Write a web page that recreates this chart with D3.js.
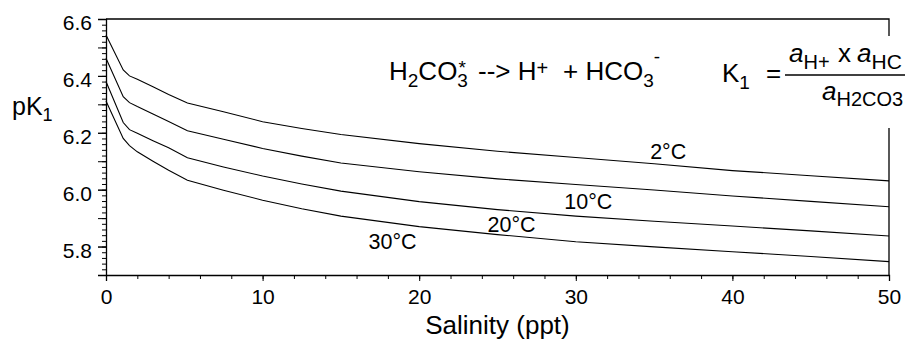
<!DOCTYPE html>
<html>
<head>
<meta charset="utf-8">
<script src="https://cdn.jsdelivr.net/npm/d3@7"></script>
<style>
  body { margin: 0; background: #fff; }
  svg { font-family: "Liberation Sans", Arial, Helvetica, sans-serif; }
</style>
</head>
<body>
<svg id="chart" width="905" height="343"></svg>
<script>
// salinity grid (ppt) and pK1
const salinity = [0, 1.1, 1.5, 2, 3, 4, 5.2, 7.5, 10, 12.5, 15, 20, 25, 30, 35, 40, 45, 50];
const pk2C  = [6.544, 6.421, 6.400, 6.388, 6.362, 6.335, 6.305, 6.274, 6.239, 6.215, 6.194, 6.162, 6.135, 6.113, 6.091, 6.067, 6.049, 6.031];
const pk10C = [6.462, 6.327, 6.306, 6.292, 6.266, 6.240, 6.207, 6.177, 6.145, 6.118, 6.094, 6.063, 6.038, 6.018, 5.999, 5.978, 5.959, 5.940];
const pk20C = [6.380, 6.236, 6.211, 6.198, 6.172, 6.147, 6.112, 6.080, 6.048, 6.020, 5.995, 5.958, 5.930, 5.907, 5.889, 5.872, 5.855, 5.837];
const pk30C = [6.312, 6.180, 6.155, 6.133, 6.100, 6.068, 6.033, 5.998, 5.963, 5.933, 5.907, 5.870, 5.842, 5.817, 5.799, 5.782, 5.765, 5.747];

const seriesLabels = ["2°C", "10°C", "20°C", "30°C"];
// label anchor [salinity, pK1] (text baseline)
const labelAt = [[35.9, 6.108], [30.8, 5.932], [25.9, 5.851], [18.3, 5.791]];

const xTicks = [0, 10, 20, 30, 40, 50];
const yTicks = [5.8, 6.0, 6.2, 6.4, 6.6];

const svg = d3.select("#chart");

const plotLeft = 106;
const plotRight = 889;
const plotTop = 19;
const plotBottom = 275;

const x = d3.scaleLinear().domain([0, 50]).range([plotLeft, plotRight]);
const y = d3.scaleLinear().domain([5.7, 6.6]).range([plotBottom, plotTop]);

const curves = [pk2C, pk10C, pk20C, pk30C];

const line = d3
  .line()
  .x((d, i) => x(salinity[i]))
  .y((d) => y(d));

svg
  .append("g")
  .selectAll("path")
  .data(curves)
  .join("path")
  .attr("d", line)
  .attr("fill", "none")
  .attr("stroke", "#000")
  .attr("stroke-width", 1.1);

// frame top and right
svg
  .append("path")
  .attr("d", `M${plotLeft},${plotTop}H${plotRight}V${plotBottom}`)
  .attr("fill", "none")
  .attr("stroke", "#000")
  .attr("stroke-width", 1.3);

// x axis, minor every 2
const xMinor = d3.range(0, 51, 2);
const xAxis = svg.append("g").attr("transform", `translate(0,${plotBottom})`);
xAxis
  .append("g")
  .call(d3.axisBottom(x).tickValues(xMinor).tickSize(4).tickFormat(""))
  .call((g) => g.select(".domain").remove());
xAxis
  .append("g")
  .call(d3.axisBottom(x).tickValues(xTicks).tickSize(6).tickPadding(8).tickFormat(d3.format("d")))
  .call((g) => g.select(".domain").attr("stroke-width", 1.3))
  .call((g) => g.selectAll("text").attr("font-size", 21).attr("font-family", null).attr("fill", "#000"));

// y axis, minor every 0.02, medium every 0.1
const yMinor = d3.range(0, 46).map((i) => 5.7 + i * 0.02);
const yMid = d3.range(0, 10).map((i) => 5.7 + i * 0.1);
const yAxis = svg.append("g").attr("transform", `translate(${plotLeft},0)`);
yAxis
  .append("g")
  .call(d3.axisLeft(y).tickValues(yMinor).tickSize(4).tickFormat(""))
  .call((g) => g.select(".domain").remove());
yAxis
  .append("g")
  .call(d3.axisLeft(y).tickValues(yMid).tickSize(8).tickFormat(""))
  .call((g) => g.select(".domain").remove());
yAxis
  .append("g")
  .call(d3.axisLeft(y).tickValues(yTicks).tickSize(8).tickPadding(6).tickFormat(d3.format(".1f")))
  .call((g) => g.select(".domain").attr("stroke-width", 1.3))
  .call((g) => g.selectAll("text").attr("font-size", 21).attr("font-family", null).attr("fill", "#000").attr("dy", "0.5em"));

// axis titles
svg
  .append("text")
  .attr("x", (plotLeft + plotRight) / 2)
  .attr("y", 334)
  .attr("text-anchor", "middle")
  .attr("font-size", 26)
  .text("Salinity (ppt)");

const pk = svg.append("text").attr("x", 12).attr("y", 115).attr("font-size", 25);
pk.append("tspan").text("pK");
pk.append("tspan").attr("font-size", 18).attr("dy", 6).text("1");

// curve labels
svg
  .append("g")
  .selectAll("text")
  .data(seriesLabels)
  .join("text")
  .attr("x", (d, i) => x(labelAt[i][0]))
  .attr("y", (d, i) => y(labelAt[i][1]))
  .attr("text-anchor", "middle")
  .attr("font-size", 21.5)
  .text((d) => d);

// white box behind the equations cuts the right frame
svg.append("rect").attr("x", 640).attr("y", 36).attr("width", 265).attr("height", 92).attr("fill", "#fff");

// reaction
const rx = svg.append("text").attr("x", 389).attr("y", 80).attr("font-size", 26);
rx.append("tspan").text("H");
rx.append("tspan").attr("font-size", 19).attr("dy", 7).text("2");
rx.append("tspan").attr("dy", -7).text("CO");
rx.append("tspan").attr("font-size", 19).attr("dy", 7).text("3");
rx.append("tspan").attr("font-size", 19).attr("dx", "-0.5em").attr("dy", -13).text("*");
rx.append("tspan").attr("x", 478).attr("dy", 6).text("--> H");
rx.append("tspan").attr("font-size", 20).attr("dy", -5).text("+");
rx.append("tspan").attr("x", 563).attr("dy", 5).text("+ HCO");
rx.append("tspan").attr("font-size", 19).attr("dy", 7).text("3");
rx.append("tspan").attr("font-size", 19).attr("dy", -24).text("-");

// K1 expression
const k = svg.append("text").attr("x", 722).attr("y", 82).attr("font-size", 26);
k.append("tspan").text("K");
k.append("tspan").attr("font-size", 19).attr("dy", 7).text("1");
k.append("tspan").attr("x", 766).attr("dy", -7).text("=");

svg.append("line").attr("x1", 785).attr("x2", 905).attr("y1", 75).attr("y2", 75).attr("stroke", "#000").attr("stroke-width", 1.3);

const num = svg.append("text").attr("x", 789).attr("y", 62).attr("font-size", 26);
num.append("tspan").attr("font-style", "italic").text("a");
num.append("tspan").attr("font-size", 20).attr("dy", 7).text("H+");
num.append("tspan").attr("x", 838).attr("dy", -7).text("x");
num.append("tspan").attr("x", 857).attr("font-style", "italic").text("a");
num.append("tspan").attr("font-size", 21).attr("dy", 7).text("HC");

const den = svg.append("text").attr("x", 822).attr("y", 100).attr("font-size", 26);
den.append("tspan").attr("font-style", "italic").text("a");
den.append("tspan").attr("font-size", 20).attr("dy", 6).text("H2CO3");
</script>
</body>
</html>
